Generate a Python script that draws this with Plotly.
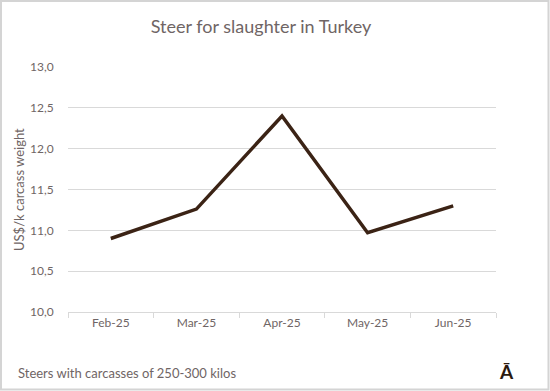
import plotly.graph_objects as go

months = ["Feb-25", "Mar-25", "Apr-25", "May-25", "Jun-25"]
prices = [10.90, 11.26, 12.40, 10.97, 11.30]
y_ticks = [10.0, 10.5, 11.0, 11.5, 12.0, 12.5, 13.0]
y_labels = ["10,0", "10,5", "11,0", "11,5", "12,0", "12,5", "13,0"]

FONT = "Lato"
TEXT = "#6f6565"
W, H = 550, 391
L, R, T, B = 68, 54, 67, 79
PW, PH = W - L - R, H - T - B

fig = go.Figure()
fig.add_trace(go.Scatter(
    x=months, y=prices, mode="lines",
    line=dict(color="#3b2315", width=3.5),
    hoverinfo="skip", showlegend=False,
))

fig.update_layout(
    width=W, height=H,
    margin=dict(l=L, r=R, t=T, b=B),
    paper_bgcolor="white", plot_bgcolor="white",
    font=dict(family=FONT, color=TEXT, size=12),
    title=dict(text="Steer for slaughter in Turkey", x=261 / W, xanchor="center",
               y=1 - 27 / H, yanchor="middle",
               font=dict(family=FONT, size=18, color=TEXT)),
    xaxis=dict(
        type="category", range=[-0.5, 4.5], showgrid=False, tickson="boundaries",
        ticks="outside", ticklen=5, tickcolor="#d9d9d9",
        showline=True, linecolor="#d9d9d9", linewidth=1, automargin=False,
        tickfont=dict(size=12, color=TEXT), fixedrange=True,
    ),
    yaxis=dict(
        range=[10.0, 13.0], tickvals=y_ticks, ticktext=y_labels,
        showgrid=True, gridcolor="#d9d9d9", gridwidth=1,
        zeroline=False, showline=False, automargin=False,
        ticks="outside", ticklen=11, tickcolor="rgba(0,0,0,0)",
        tickfont=dict(size=12, color=TEXT), fixedrange=True,
    ),
    shapes=[dict(type="rect", xref="paper", yref="paper",
                 x0=(1 - L) / PW, x1=(W - 1.5 - L) / PW,
                 y0=-(B - 1.5) / PH, y1=(PH + T - 1) / PH,
                 line=dict(color="#d4d4d4", width=2))],
    annotations=[
        dict(text="US$/k carcass weight", xref="paper", yref="paper",
             x=(18.5 - L) / PW, y=0.5, xanchor="center", yanchor="middle",
             textangle=-90, showarrow=False,
             font=dict(size=13, color=TEXT, family=FONT)),
        dict(text="Steers with carcasses of 250-300 kilos", xref="paper", yref="paper",
             x=(16 - L) / PW, y=-(373 - (H - B)) / PH, xanchor="left", yanchor="middle",
             showarrow=False, font=dict(size=13, color=TEXT, family=FONT)),
        dict(text="<b>Ā</b>", xref="paper", yref="paper",
             x=(506 - L) / PW, y=-(371 - (H - B)) / PH, xanchor="center", yanchor="middle",
             showarrow=False, font=dict(size=19, color="#2b1a10", family=FONT)),
    ],
)

fig.write_html("out.html", config={"displayModeBar": False},
               post_script="document.body.style.margin='0';")
